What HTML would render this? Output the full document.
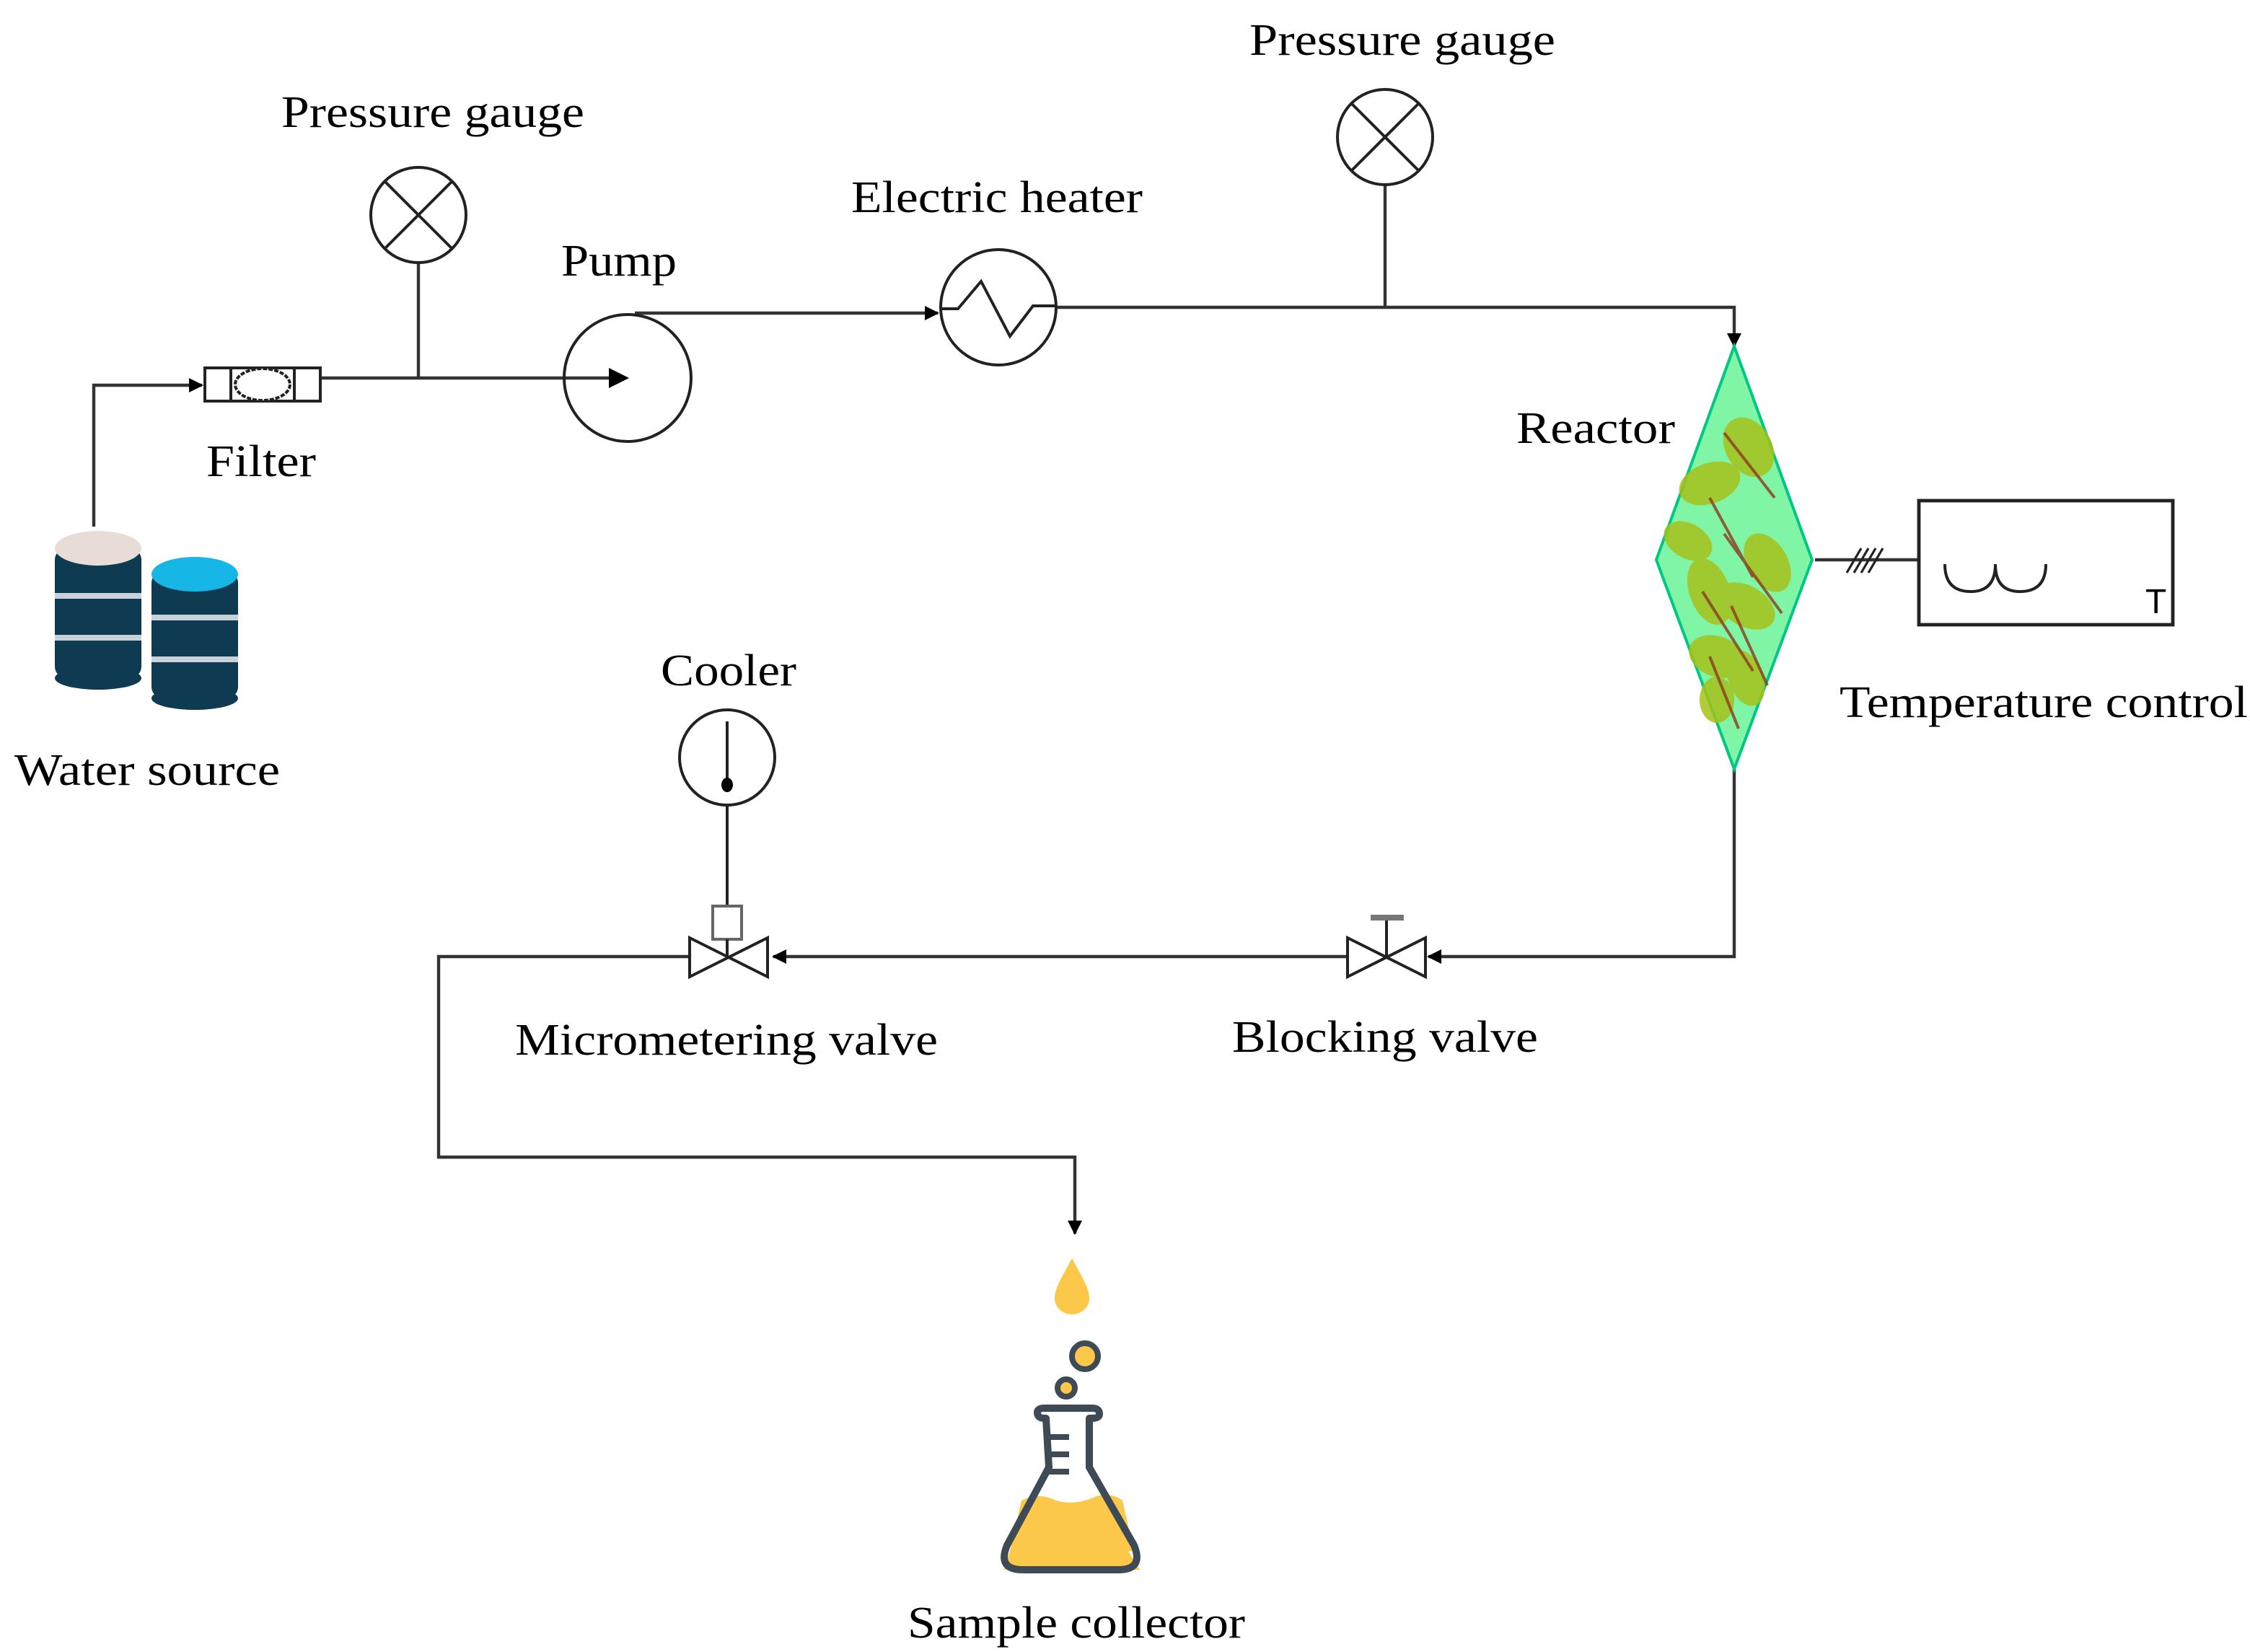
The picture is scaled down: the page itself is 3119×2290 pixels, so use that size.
<!DOCTYPE html>
<html><head><meta charset="utf-8"><style>html,body{margin:0;padding:0;background:#fff}svg{display:block}</style></head>
<body>
<svg width="3119" height="2290" viewBox="0 0 1559.5 1145" xmlns="http://www.w3.org/2000/svg" font-family="'Liberation Serif',serif" font-size="31" fill="#000">
<defs>
<marker id="ar" markerWidth="10" markerHeight="10" refX="9" refY="5" orient="auto" markerUnits="userSpaceOnUse"><path d="M0,0 L10,5 L0,10 z" fill="#000"/></marker>
</defs>
<g stroke="#333" stroke-width="2.2" fill="none">
<!-- water to filter -->
<path d="M65,365 V267 H140" marker-end="url(#ar)"/>
<!-- filter to pump -->
<path d="M222,262 H432" marker-end="url(#ar)"/>
<line x1="290" y1="182" x2="290" y2="262"/>
<!-- pump to heater -->
<path d="M440,217 H650" marker-end="url(#ar)"/>
<!-- heater to reactor -->
<path d="M732,213 H1202 V240" marker-end="url(#ar)"/>
<line x1="960" y1="128" x2="960" y2="213"/>
<!-- reactor down to blocking valve -->
<path d="M1202,533 V663 H990" marker-end="url(#ar)"/>
<path d="M933,663 H536" marker-end="url(#ar)"/>
<path d="M478,663 H304 V802 H745 V855" marker-end="url(#ar)"/>
<!-- temp link -->
<line x1="1258" y1="388" x2="1330" y2="388"/>
</g>
<g stroke="#222" stroke-width="1.6" fill="none">
<line x1="1280" y1="397" x2="1290" y2="380"/><line x1="1285" y1="397" x2="1295" y2="380"/><line x1="1290" y1="397" x2="1300" y2="380"/><line x1="1295" y1="397" x2="1305" y2="380"/>
</g>
<!-- gauges -->
<g stroke="#222" stroke-width="2" fill="#fff">
<circle cx="290" cy="149" r="33"/><line x1="267" y1="126" x2="313" y2="172"/><line x1="313" y1="126" x2="267" y2="172"/>
<circle cx="960" cy="95" r="33"/><line x1="937" y1="72" x2="983" y2="118"/><line x1="983" y1="72" x2="937" y2="118"/>
<!-- filter -->
<rect x="142" y="255" width="80" height="23"/>
<line x1="160" y1="255" x2="160" y2="278"/><line x1="204" y1="255" x2="204" y2="278"/>
<ellipse cx="182" cy="266.5" rx="19" ry="11" stroke-dasharray="3,1"/>
<!-- pump -->
<circle cx="435" cy="262" r="44" fill="none"/>
<!-- heater -->
<circle cx="692" cy="213" r="40"/>
<polyline points="652,214 664,214 680,195 700,233 716,212 732,212" fill="none"/>
<!-- temperature control -->
<rect x="1330" y="347" width="176" height="86" stroke-width="2.4"/>
<path d="M1348,391 Q1348,410 1366,410 Q1383,410 1383,391 Q1383,410 1400,410 Q1418,410 1418,391" fill="none"/>
<!-- cooler -->
<circle cx="504" cy="525" r="33"/>
<line x1="504" y1="500" x2="504" y2="543"/>
<line x1="504" y1="558" x2="504" y2="628"/>
<rect x="494" y="628" width="20" height="23" stroke="#666"/>
<!-- micrometering valve -->
<path d="M478,650 L532,677 L532,650 L478,677 Z" fill="#fff"/>
<line x1="504" y1="651" x2="504" y2="663"/>
<!-- blocking valve -->
<path d="M934,650 L988,677 L988,650 L934,677 Z" fill="#fff"/>
<line x1="961" y1="637" x2="961" y2="663"/>
</g>
<ellipse cx="504" cy="544" rx="4" ry="5" fill="#000"/>
<rect x="950" y="634" width="23" height="4" fill="#777"/>
<path d="M422,255 L436,262 L422,269 z" fill="#000"/>
<!-- reactor -->
<polygon points="1202,240 1256,388 1202,533 1148,388" fill="#80f5a6" stroke="#00c882" stroke-width="2"/>
<g fill="#a5c21a" opacity="0.85">
<ellipse cx="1212" cy="310" rx="16" ry="22" transform="rotate(-30 1212 310)"/>
<ellipse cx="1185" cy="335" rx="22" ry="14" transform="rotate(-20 1185 335)"/>
<ellipse cx="1170" cy="375" rx="18" ry="12" transform="rotate(30 1170 375)"/>
<ellipse cx="1225" cy="390" rx="14" ry="22" transform="rotate(-30 1225 390)"/>
<ellipse cx="1185" cy="410" rx="14" ry="24" transform="rotate(-20 1185 410)"/>
<ellipse cx="1210" cy="420" rx="22" ry="14" transform="rotate(30 1210 420)"/>
<ellipse cx="1190" cy="455" rx="20" ry="14" transform="rotate(20 1190 455)"/>
<ellipse cx="1210" cy="470" rx="12" ry="20" transform="rotate(-20 1210 470)"/>
<ellipse cx="1190" cy="485" rx="12" ry="16"/>
</g>
<g stroke="#8b3a1e" stroke-width="2" fill="none" opacity="0.8">
<line x1="1195" y1="300" x2="1230" y2="345"/><line x1="1185" y1="345" x2="1215" y2="400"/>
<line x1="1195" y1="370" x2="1235" y2="425"/><line x1="1180" y1="410" x2="1215" y2="465"/>
<line x1="1185" y1="455" x2="1205" y2="505"/><line x1="1200" y1="420" x2="1225" y2="475"/>
</g>
<!-- water source -->
<g>
<rect x="38" y="380" width="60" height="90" rx="8" fill="#0e3b52"/>
<ellipse cx="68" cy="380" rx="30" ry="12" fill="#e8ddd6"/>
<rect x="38" y="411" width="60" height="4" fill="#c8d2d8"/><rect x="38" y="440" width="60" height="4" fill="#c8d2d8"/>
<ellipse cx="68" cy="470" rx="30" ry="8" fill="#0e3b52"/>
<rect x="105" y="396" width="60" height="88" rx="8" fill="#0e3b52"/>
<ellipse cx="135" cy="398" rx="30" ry="12" fill="#16b6e6"/>
<rect x="105" y="426" width="60" height="4" fill="#c8d2d8"/><rect x="105" y="455" width="60" height="4" fill="#c8d2d8"/>
<ellipse cx="135" cy="484" rx="30" ry="8" fill="#0e3b52"/>
</g>
<!-- sample collector -->
<path d="M743,872 C737,884 731,892 731,900 A12,11 0 0 0 755,900 C755,892 749,884 743,872 Z" fill="#fcc84a"/>
<circle cx="752" cy="940" r="9" fill="#fcc84a" stroke="#3f4a57" stroke-width="4"/>
<circle cx="739" cy="962" r="6" fill="#fcc84a" stroke="#3f4a57" stroke-width="4"/>
<path d="M708,1040 Q720,1034 732,1040 Q745,1044 760,1037 Q770,1034 778,1040 L786,1075 L700,1075 Z" fill="#fcc84a"/>
<path d="M700,1075 L782,1075 L790,1088 L696,1088 Z" fill="#fcc84a"/>
<path d="M725,983 H724 Q719,983 719,979 Q719,976 724,976 H757 Q762,976 762,980 Q762,983 757,983 H755 V1017 L786,1071 Q793,1088 775,1088 H709 Q691,1088 698,1071 L727,1017 Z" fill="none" stroke="#3f4a57" stroke-width="5" stroke-linejoin="round"/>
<g stroke="#3f4a57" stroke-width="4"><line x1="727" y1="996" x2="741" y2="996"/><line x1="727" y1="1008" x2="741" y2="1008"/><line x1="727" y1="1020" x2="741" y2="1020"/></g>
<!-- labels -->
<text x="195" y="88" textLength="210" lengthAdjust="spacingAndGlyphs">Pressure gauge</text>
<text x="866" y="38" textLength="212" lengthAdjust="spacingAndGlyphs">Pressure gauge</text>
<text x="389" y="191" textLength="80" lengthAdjust="spacingAndGlyphs">Pump</text>
<text x="590" y="147" textLength="202" lengthAdjust="spacingAndGlyphs">Electric heater</text>
<text x="143" y="330" textLength="76" lengthAdjust="spacingAndGlyphs">Filter</text>
<text x="10" y="544" textLength="184" lengthAdjust="spacingAndGlyphs">Water source</text>
<text x="1051" y="307" textLength="110" lengthAdjust="spacingAndGlyphs">Reactor</text>
<text x="1275" y="497" textLength="283" lengthAdjust="spacingAndGlyphs">Temperature control</text>
<text x="1487" y="425" font-family="'Liberation Sans',sans-serif" font-size="24">T</text>
<text x="458" y="475" textLength="94" lengthAdjust="spacingAndGlyphs">Cooler</text>
<text x="357" y="731" textLength="293" lengthAdjust="spacingAndGlyphs">Micrometering valve</text>
<text x="854" y="729" textLength="212" lengthAdjust="spacingAndGlyphs">Blocking valve</text>
<text x="629" y="1135" textLength="234" lengthAdjust="spacingAndGlyphs">Sample collector</text>
</svg>
</body></html>
